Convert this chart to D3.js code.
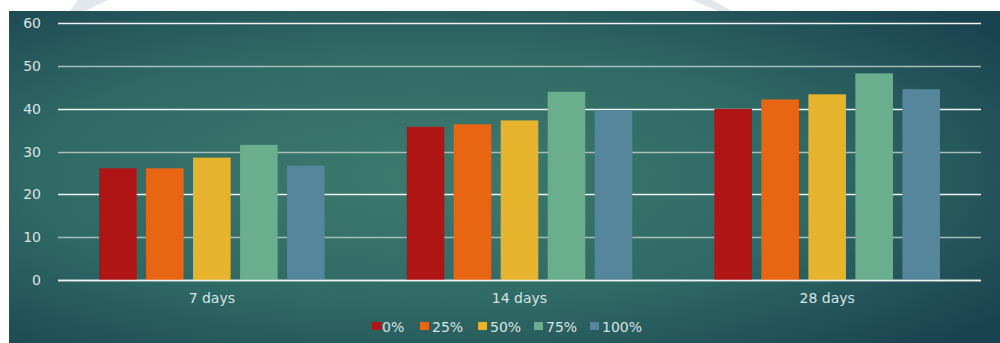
<!DOCTYPE html>
<html>
<head>
<meta charset="utf-8">
<script src="https://cdn.jsdelivr.net/npm/d3@7"></script>
<style>
  html, body { margin: 0; padding: 0; background: #fff; }
  text { font-family: "DejaVu Sans", sans-serif; fill: #d9e2e0; }
</style>
</head>
<body>
<div id="chart"></div>
<script>
const categories = ["7 days", "14 days", "28 days"];
const seriesNames = ["0%", "25%", "50%", "75%", "100%"];
const seriesColors = ["#b01515", "#e86514", "#e6b42c", "#6aae8e", "#55869c"];
const values = [
  [26.1, 26.1, 28.6, 31.6, 26.7],
  [35.8, 36.4, 37.3, 44.0, 39.7],
  [40.0, 42.2, 43.4, 48.3, 44.6]
];
const yTicks = [0, 10, 20, 30, 40, 50, 60];

const width = 1000, height = 343;
const svg = d3.select("#chart").append("svg")
  .attr("width", width).attr("height", height);

// background
const defs = svg.append("defs");
const grad = defs.append("radialGradient").attr("id", "bg")
  .attr("cx", "42%").attr("cy", "50%").attr("r", "72%");
grad.append("stop").attr("offset", "0%").attr("stop-color", "#3c7a6e");
grad.append("stop").attr("offset", "55%").attr("stop-color", "#2f6965");
grad.append("stop").attr("offset", "100%").attr("stop-color", "#1a4350");

svg.append("polygon").attr("points", "78,0 108,0 85,11 70,11").attr("fill", "#e2e7ec");
svg.append("polygon").attr("points", "692,0 712,0 732,11 718,11").attr("fill", "#e2e7ec");
svg.append("rect").attr("x", 9).attr("y", 11)
  .attr("width", width - 9).attr("height", height - 11)
  .attr("fill", "url(#bg)");

const x0 = d3.scaleBand().domain(categories).range([58, 981]);
const x1 = d3.scaleBand().domain(seriesNames).range([-122.2, 122.2]).padding(0.2);
const y = d3.scaleLinear().domain([0, 60]).range([280, 23.3]);

// gridlines
svg.append("g").selectAll("line").data(yTicks).join("line")
  .attr("x1", 58).attr("x2", 981)
  .attr("y1", d => Math.round(y(d)) + 0.5).attr("y2", d => Math.round(y(d)) + 0.5)
  .attr("stroke", (d, i) => i % 2 === 0 ? "#eef2f1" : "#a9bdbb")
  .attr("stroke-width", 1.3);

const yAxis = d3.axisLeft(y).tickValues(yTicks).tickSize(0).tickPadding(0);
svg.append("g").attr("transform", "translate(41,0)").call(yAxis)
  .call(g => g.select(".domain").remove())
  .selectAll("text").attr("font-size", 14).attr("fill", "#d9e2e0")
  .attr("font-family", "DejaVu Sans, sans-serif");

// bars
svg.append("g").selectAll("g").data(values).join("g")
  .attr("transform", (d, i) => `translate(${x0(categories[i]) + x0.bandwidth() / 2},0)`)
  .selectAll("rect").data(d => d.map((v, j) => ({ v, j }))).join("rect")
  .attr("x", d => x1(seriesNames[d.j]))
  .attr("width", x1.bandwidth())
  .attr("y", d => y(d.v))
  .attr("height", d => y(0) - y(d.v))
  .attr("fill", d => seriesColors[d.j]);

// baseline on top
svg.append("line").attr("x1", 58).attr("x2", 981)
  .attr("y1", Math.round(y(0)) + 0.5).attr("y2", Math.round(y(0)) + 0.5)
  .attr("stroke", "#eef2f1").attr("stroke-width", 1.3);

const xAxis = d3.axisBottom(x0).tickSize(0).tickPadding(0);
svg.append("g").attr("transform", "translate(0,303)").call(xAxis)
  .call(g => g.select(".domain").remove())
  .selectAll("text").attr("font-size", 14).attr("fill", "#d9e2e0")
  .attr("dy", 0).attr("font-family", "DejaVu Sans, sans-serif");

// legend
const legendX = [372, 420, 478, 534, 590];
const legend = svg.append("g").selectAll("g").data(seriesNames).join("g")
  .attr("transform", (d, i) => `translate(${legendX[i]},322)`);
legend.append("rect").attr("width", 9).attr("height", 8)
  .attr("fill", (d, i) => seriesColors[i]);
legend.append("text").attr("x", (d, i) => i === 0 ? 10 : 12).attr("y", 9.5)
  .attr("font-size", 14).text(d => d);
</script>
</body>
</html>
